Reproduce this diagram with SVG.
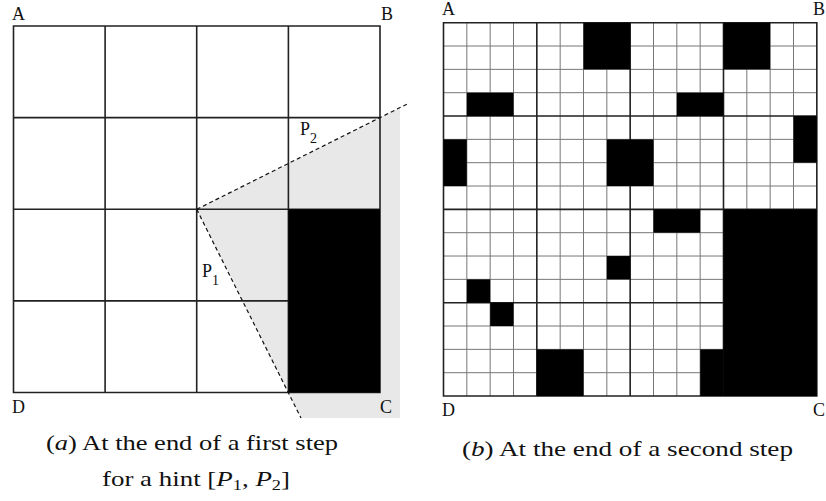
<svg xmlns="http://www.w3.org/2000/svg" width="826" height="501" viewBox="0 0 826 501">
<style>
.lbl{font-family:"Liberation Serif","Times New Roman",serif;font-size:18px;fill:#111}
.sub{font-size:14px}
.cap{font-family:"Liberation Serif","Times New Roman",serif;font-size:22px;fill:#111}
.grid{fill:none;stroke:#222;stroke-width:1.6}
.thin{fill:none;stroke:#777;stroke-width:1}
.thick{fill:none;stroke:#222;stroke-width:1.6}
.dash{fill:none;stroke:#111;stroke-width:1.2;stroke-dasharray:4 3}
.blk{fill:#000}
</style>
<rect width="826" height="501" fill="#fff"/>

<g id="panel-a">
  <polygon id="region" points="196.7,209.3 400,107.7 400,418 301,418" fill="#e8e8e8"/>
  <path class="grid" d="M13.5,26H380V392.5H13.5Z M105.1,26V392.5 M196.7,26V392.5 M288.4,26V392.5 M13.5,117.6H380 M13.5,209.3H380 M13.5,300.9H380"/>
  <rect id="obstacle" class="blk" x="288.4" y="209.3" width="91.6" height="183.2"/>
  <g id="connectors">
    <line id="hint-p2" class="dash" x1="196.7" y1="209.3" x2="408" y2="103.6"/>
    <line id="hint-p1" class="dash" x1="196.7" y1="209.3" x2="301" y2="418"/>
  </g>
  <text class="lbl" x="12" y="20">A</text>
  <text class="lbl" x="381" y="20">B</text>
  <text class="lbl" x="12" y="413">D</text>
  <text class="lbl" x="380" y="413">C</text>
  <text class="lbl" x="300" y="135">P<tspan class="sub" dy="8">2</tspan></text>
  <text class="lbl" x="202" y="277">P<tspan class="sub" dy="8">1</tspan></text>
  <text class="cap" x="46" y="450" textLength="292" lengthAdjust="spacingAndGlyphs">(<tspan font-style="italic">a</tspan>) At the end of a first step</text>
  <text class="cap" x="102" y="486" textLength="188" lengthAdjust="spacingAndGlyphs">for a hint [<tspan font-style="italic">P</tspan><tspan font-size="15" dy="4">1</tspan><tspan dy="-4">, </tspan><tspan font-style="italic">P</tspan><tspan font-size="15" dy="4">2</tspan><tspan dy="-4">]</tspan></text>
</g>

<g id="panel-b">
  <path class="thin" d="M466.83,22.7V396.03 M490.17,22.7V396.03 M513.5,22.7V396.03 M560.17,22.7V396.03 M583.5,22.7V396.03 M606.83,22.7V396.03 M653.5,22.7V396.03 M676.83,22.7V396.03 M700.17,22.7V396.03 M746.83,22.7V396.03 M770.17,22.7V396.03 M793.5,22.7V396.03 M443.5,46.03H816.83 M443.5,69.37H816.83 M443.5,92.7H816.83 M443.5,139.37H816.83 M443.5,162.7H816.83 M443.5,186.03H816.83 M443.5,232.7H816.83 M443.5,256.03H816.83 M443.5,279.37H816.83 M443.5,326.03H816.83 M443.5,349.37H816.83 M443.5,372.7H816.83"/>
  <path class="thick" d="M443.5,22.7H816.83V396.03H443.5Z M536.83,22.7V396.03 M630.17,22.7V396.03 M723.5,22.7V396.03 M443.5,116.03H816.83 M443.5,209.37H816.83 M443.5,302.7H816.83"/>
  <g id="cells">
    <rect class="blk" x="583.5" y="22.7" width="46.67" height="46.67"/>
    <rect class="blk" x="723.5" y="22.7" width="46.67" height="46.67"/>
    <rect class="blk" x="466.83" y="92.7" width="46.67" height="23.33"/>
    <rect class="blk" x="676.83" y="92.7" width="46.67" height="23.33"/>
    <rect class="blk" x="793.5" y="116.03" width="23.33" height="46.67"/>
    <rect class="blk" x="443.5" y="139.37" width="23.33" height="46.67"/>
    <rect class="blk" x="606.83" y="139.37" width="46.67" height="46.67"/>
    <rect class="blk" x="653.5" y="209.37" width="46.67" height="23.33"/>
    <rect class="blk" x="723.5" y="209.37" width="93.33" height="186.67"/>
    <rect class="blk" x="606.83" y="256.03" width="23.33" height="23.33"/>
    <rect class="blk" x="466.83" y="279.37" width="23.33" height="23.33"/>
    <rect class="blk" x="490.17" y="302.7" width="23.33" height="23.33"/>
    <rect class="blk" x="536.83" y="349.37" width="46.67" height="46.67"/>
    <rect class="blk" x="700.17" y="349.37" width="23.33" height="46.67"/>
  </g>
  <text class="lbl" x="442" y="15">A</text>
  <text class="lbl" x="813" y="15">B</text>
  <text class="lbl" x="442" y="416">D</text>
  <text class="lbl" x="813" y="416">C</text>
  <text class="cap" x="462" y="456" textLength="331" lengthAdjust="spacingAndGlyphs">(<tspan font-style="italic">b</tspan>) At the end of a second step</text>
</g>
</svg>
